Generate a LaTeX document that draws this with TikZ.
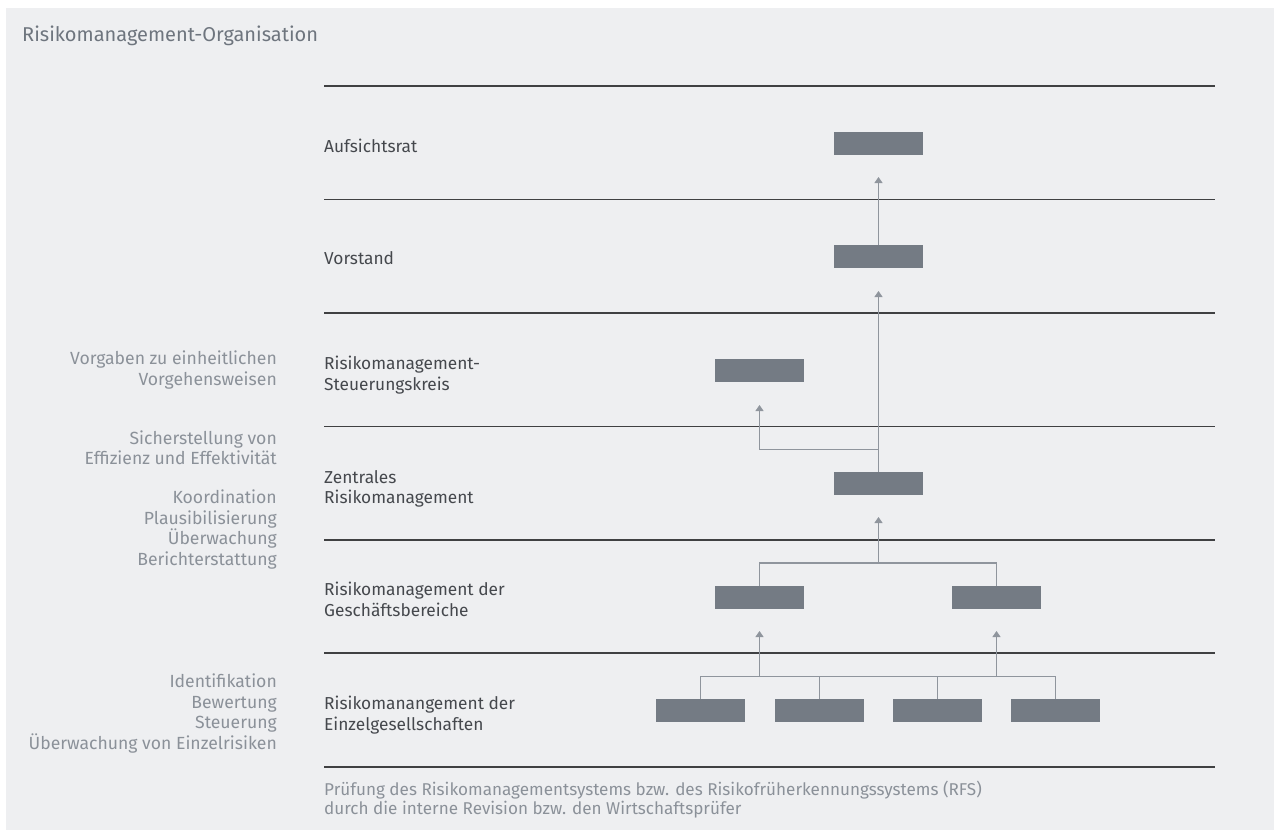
\documentclass[tikz,border=0pt]{standalone}
\usepackage{fontspec}
\setmainfont{Fira Sans}
\usetikzlibrary{arrows.meta}

\definecolor{bggray}{RGB}{238,239,241}
\definecolor{boxgray}{RGB}{116,123,132}
\definecolor{linkgray}{RGB}{143,149,157}
\definecolor{sepgray}{RGB}{63,64,66}
\definecolor{titlegray}{RGB}{110,117,126}
\definecolor{labelgray}{RGB}{69,72,77}
\definecolor{notegray}{RGB}{139,145,153}

\begin{document}
\begin{tikzpicture}[x=1pt,y=-1pt,
	unit/.style={draw=none,fill=boxgray,rectangle,minimum width=89pt,minimum height=23pt,inner sep=0pt},
	level/.style={anchor=base west,align=left,inner sep=0pt,text=labelgray,font=\fontsize{17.3}{20.5}\selectfont},
	note/.style={anchor=base east,align=right,inner sep=0pt,text=notegray,font=\fontsize{17.6}{20.5}\selectfont},
	sep/.style={draw=sepgray,line width=1.1pt},
	link/.style={draw=linkgray,line width=1.1pt},
	>={Triangle[width=8pt,length=6pt]}]
	\useasboundingbox (0,0) rectangle (1274,830);
	\fill[bggray] (6,8) rectangle (1274,830);
	\node[anchor=base west,inner sep=0pt,text=titlegray,font=\fontsize{20}{24}\selectfont] (title) at (22,41.5) {Risikomanagement-Organisation};
	% separators
	\foreach \y [count=\i] in {86,199.3,313,426.7,540,653,767} {
		\coordinate (sl\i) at (324,\y);
		\coordinate (sr\i) at (1215,\y);
		\draw[sep] (sl\i) -- (sr\i);
	}
	% levels (base = last line)
	\node[level] (lblauf) at (324,152) {Aufsichtsrat};
	\node[level] (lblvor) at (324,264.5) {Vorstand};
	\node[level] (lblstk) at (324,390) {Risikomanagement-\\Steuerungskreis};
	\node[level] (lblzrm) at (324,503.5) {Zentrales\\Risikomanagement};
	\node[level] (lblgb) at (324,616) {Risikomanagement der\\Geschäftsbereiche};
	\node[level] (lbleg) at (324,730) {Risikomanangement der\\Einzelgesellschaften};
	% notes
	\node[note] (notevg) at (277,385) {Vorgaben zu einheitlichen\\Vorgehensweisen};
	\node[note] (notese) at (277,464.5) {Sicherstellung von\\Effizienz und Effektivität};
	\node[note] (notekp) at (277,565) {Koordination\\Plausibilisierung\\Überwachung\\Berichterstattung};
	\node[note] (noteib) at (277,749) {Identifikation\\Bewertung\\Steuerung\\Überwachung von Einzelrisiken};
	\node[anchor=base west,align=left,inner sep=0pt,text=notegray,font=\fontsize{17.1}{19}\selectfont] (pruef) at (324,814) {Prüfung des Risikomanagementsystems bzw. des Risikofrüherkennungssystems (RFS)\\durch die interne Revision bzw. den Wirtschaftsprüfer};
	% boxes
	\node[unit] (auf) at (878.5,143.5) {};
	\node[unit] (vor) at (878.5,256.5) {};
	\node[unit] (stk) at (759.5,370.5) {};
	\node[unit] (zrm) at (878.5,483.5) {};
	\node[unit] (gb1) at (759.5,597.5) {};
	\node[unit] (gb2) at (996.5,597.5) {};
	\node[unit] (eg1) at (700.5,710.5) {};
	\node[unit] (eg2) at (819.5,710.5) {};
	\node[unit] (eg3) at (937.5,710.5) {};
	\node[unit] (eg4) at (1055.5,710.5) {};
	% joints and arrow ends
	\coordinate (tipauf) at (878.5,177);
	\coordinate (tipvor) at (878.5,291);
	\coordinate (tipstk) at (759.5,405);
	\coordinate (tipzrm) at (878.5,517);
	\coordinate (tipgb1) at (759.5,631);
	\coordinate (tipgb2) at (996.5,631);
	\coordinate (jzrm) at (878.5,449.5);
	\coordinate (jgb) at (878.5,563);
	\coordinate (jeg1) at (759.5,676.5);
	\coordinate (jeg2) at (996.5,676.5);
	\coordinate (jeg4) at (1055.5,676.5);
	% connectors
	\draw[link,->] (vor.north) -- (tipauf);
	\draw[link,->] (zrm.north) -- (tipvor);
	\draw[link,->] (jzrm) -| (tipstk);
	\draw[link] (gb1.north) |- (jgb) -| (gb2.north);
	\draw[link,->] (jgb) -- (tipzrm);
	\draw[link] (eg1.north) |- (jeg4) -- (eg4.north);
	\draw[link] (eg2.north) -- (eg2.north |- jeg4);
	\draw[link] (eg3.north) -- (eg3.north |- jeg4);
	\draw[link,->] (jeg1) -- (tipgb1);
	\draw[link,->] (jeg2) -- (tipgb2);
\end{tikzpicture}
\end{document}
